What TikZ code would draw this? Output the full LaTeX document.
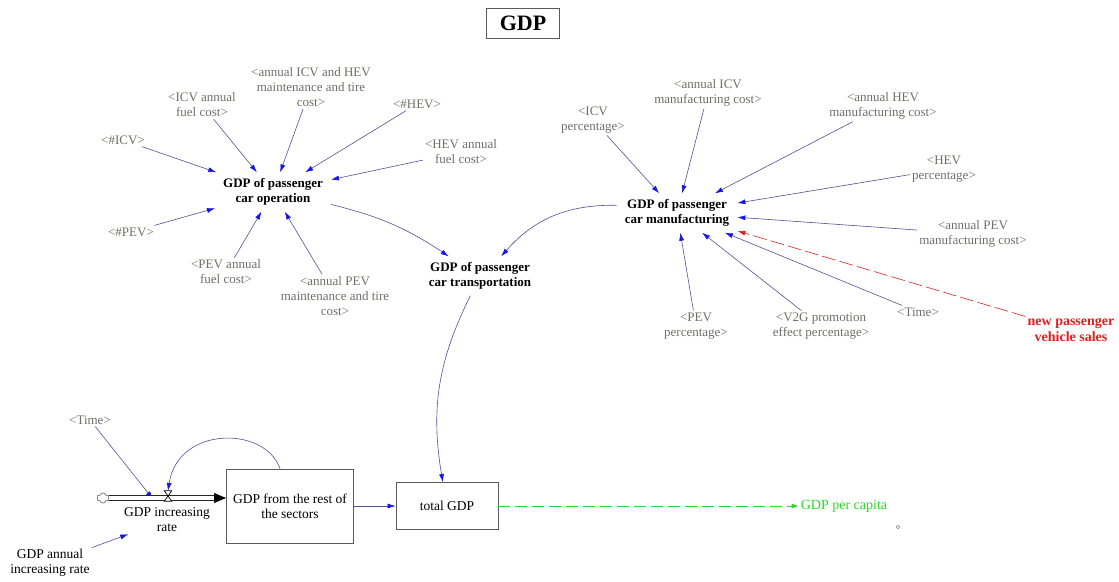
\documentclass[tikz,border=0pt]{standalone}
\usepackage{fontspec}
\setmainfont{Liberation Serif}
\usetikzlibrary{arrows.meta,shapes.symbols}
\definecolor{lbl}{RGB}{110,110,105}
\definecolor{lnkc}{RGB}{80,80,150}
\definecolor{tipc}{RGB}{20,20,235}
\definecolor{gdpgreen}{RGB}{40,215,40}
\definecolor{salesred}{RGB}{225,30,30}
\definecolor{boxc}{RGB}{90,90,90}
\begin{document}
\begin{tikzpicture}[x=1pt,y=-1pt,
 shd/.style={font=\fontsize{13}{15}\selectfont, text=lbl, align=center, inner sep=2pt},
 varn/.style={font=\fontsize{13}{15}\selectfont\bfseries, align=center, inner xsep=8pt, inner ysep=6pt},
 txt/.style={font=\fontsize{13.5}{15}\selectfont, align=center, inner sep=2pt},
 lnk/.style={draw=lnkc, line width=0.6pt, -{Latex[length=8pt,width=5pt,color=tipc]}},
 stock/.style={draw=boxc, line width=0.8pt, align=center, font=\fontsize{13.5}{15}\selectfont},
]
\useasboundingbox (0,0) rectangle (1119,581);
% title
\node[draw=boxc, line width=0.8pt, font=\fontsize{22}{24}\selectfont\bfseries, minimum width=73pt, minimum height=30pt, inner sep=0] (title) at (523,23) {GDP};
% left cluster
\node[varn] (op) at (273,192) {GDP of passenger\\car operation};
\node[shd] (icv) at (123,140) {<\#ICV>};
\node[shd] (icvf) at (202,105) {<ICV annual\\fuel cost>};
\node[shd] (icvhm) at (311,87) {<annual ICV and HEV\\maintenance and tire\\cost>};
\node[shd] (hev) at (417,104) {<\#HEV>};
\node[shd] (hevf) at (461,152) {<HEV annual\\fuel cost>};
\node[shd] (pev) at (131,232) {<\#PEV>};
\node[shd] (pevf) at (226,272) {<PEV annual\\fuel cost>};
\node[shd] (pevm) at (335,296) {<annual PEV\\maintenance and tire\\cost>};
\node[varn] (tr) at (480,276) {GDP of passenger\\car transportation};
% right cluster
\node[varn] (mf) at (677,213) {GDP of passenger\\car manufacturing};
\node[shd] (icvp) at (593,120) {<ICV\\percentage>};
\node[shd] (aicvm) at (708,93) {<annual ICV\\manufacturing cost>};
\node[shd] (ahevm) at (883,106) {<annual HEV\\manufacturing cost>};
\node[shd] (hevp) at (944,169) {<HEV\\percentage>};
\node[shd] (apevm) at (973,234) {<annual PEV\\manufacturing cost>};
\node[shd] (time1) at (918,312) {<Time>};
\node[shd] (v2g) at (821,326) {<V2G promotion\\effect percentage>};
\node[shd] (pevp) at (696,326) {<PEV\\percentage>};
\node[font=\fontsize{14}{16}\selectfont\bfseries, text=salesred, align=center, inner sep=2pt] (sales) at (1071,330) {new passenger\\vehicle sales};
% bottom
\node[shd] (time2) at (90,420) {<Time>};
\node[shape=cloud, draw=gray!80!black, line width=0.7pt, cloud puffs=6, minimum width=12pt, minimum height=10pt, inner sep=0] (cloud) at (103,498) {};
\node[inner sep=0, minimum width=7pt, minimum height=10pt] (valve) at (168,496) {};
\node[txt] (rate) at (167,520) {GDP increasing\\rate};
\node[txt] (arate) at (50,563) {GDP annual\\increasing rate};
\node[stock, minimum width=127pt, minimum height=74pt] (rest) at (290,506) {GDP from the rest of\\the sectors};
\node[stock, minimum width=102pt, minimum height=47pt] (tot) at (447,506) {total GDP};
\node[font=\fontsize{14}{16}\selectfont, text=gdpgreen, inner sep=2pt] (gpc) at (844,506) {GDP per capita};
\node[circle, draw=gray, inner sep=0, minimum size=3.5pt] (dot) at (898,527) {};
% connectors
\foreach \s in {icv,icvf,icvhm,hev,hevf,pev,pevf,pevm} \draw[lnk] (\s) -- (op);
\foreach \s in {icvp,aicvm,ahevm,hevp,apevm,time1,v2g,pevp} \draw[lnk] (\s) -- (mf);
\draw[draw=salesred, line width=0.6pt, dash pattern=on 14pt off 4pt, -{Latex[length=8pt,width=5pt,color=salesred]}] (sales) -- (mf);
\draw[lnk] (op) to[bend left=10] (tr);
\draw[lnk] (mf) to[bend right=25] (tr);
\draw[lnk] (tr) to[bend right=18] (tot);
\draw[lnk] (rest) -- (tot);
\draw[lnk] (arate) -- (rate);
\coordinate (ratein) at (153,499);
\draw[lnk] (time2) -- (ratein);
\draw[lnk] ([xshift=-10pt]rest.north) .. controls +(-15,-43) and +(10,-65) .. (valve.north);
% flow pipe
\draw[double=white, double distance=3.5pt, line width=0.8pt, draw=black!85] (cloud.east) -- ([xshift=-11pt]cloud.east -| rest.west);
\fill[black] (cloud.east -| rest.west) -- ++(-12,-5) -- ++(0,10) -- cycle;
\draw[black, line width=0.7pt, fill=white] (valve.north west) -- (valve.north east) -- (valve.south west) -- (valve.south east) -- cycle;
% GDP per capita
\draw[draw=gdpgreen, line width=0.9pt, dash pattern=on 12pt off 5pt, -{Latex[length=7pt,width=5pt]}] (tot.east) -- (gpc.west);
\end{tikzpicture}
\end{document}
